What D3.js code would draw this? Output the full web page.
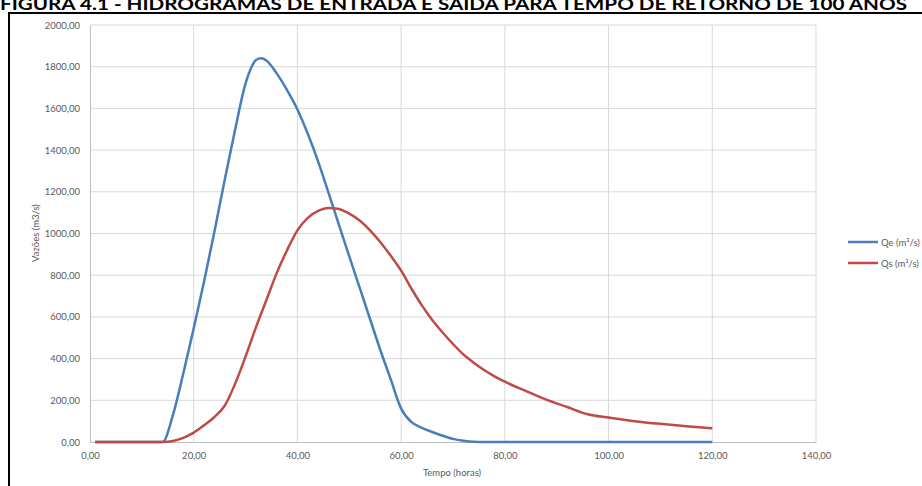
<!DOCTYPE html>
<html><head><meta charset="utf-8">
<script src="https://cdn.jsdelivr.net/npm/d3@7/dist/d3.min.js"></script>
<style>html,body{margin:0;padding:0;background:#fff;overflow:hidden}</style>
</head><body>
<svg id="c" width="922" height="486"></svg>
<script>
const title = "FIGURA 4.1 - HIDROGRAMAS DE ENTRADA E SAÍDA PARA TEMPO DE RETORNO DE 100 ANOS";
const xTicks = [0,20,40,60,80,100,120,140];
const yTicks = [0,200,400,600,800,1000,1200,1400,1600,1800,2000];
const seriesNames = ["Qe (m³/s)", "Qs (m³/s)"];
const seriesColors = ["#4A7EBB", "#BE4B48"];
const tQe = [1,12,14,16,18,20,22,24,26,28,30,31,32,33,34,36,38,40,42,44,46,48,50,52,54,56,58,60,62,64,66,68,70,72,74,76,120];
const vQe = [0,0,0,130,330,545,770,1010,1260,1500,1720,1790,1832,1840,1830,1768,1688,1595,1478,1345,1195,1042,890,740,590,440,300,160,95,68,48,30,15,6,1,0,0];
const tQs = [1,10,14,16,18,20,22,24,26,28,30,32,34,36,38,40,42,44,46,48,50,52,54,56,58,60,62,64,66,68,70,72,74,76,78,80,84,88,92,96,100,105,110,115,120];
const vQs = [0,0,0,5,20,45,80,120,175,280,410,550,680,810,920,1015,1075,1108,1122,1118,1095,1062,1015,958,893,822,735,655,585,525,470,420,380,345,315,289,245,203,168,133,117,100,87,76,66];

const svg = d3.select("#c");
const font = "Lato, 'Open Sans', sans-serif";
const fmt = v => v.toFixed(2).replace(".", ",");

// outer border
svg.append("rect").attr("x",9).attr("y",13).attr("width",940).attr("height",500)
  .attr("fill","none").attr("stroke","#000").attr("stroke-width",2);

// title (cut at the top edge, as in the reference)
svg.append("text").attr("x",0).attr("y",10).attr("font-family",font).attr("font-weight","bold")
  .attr("font-size",17).attr("textLength",907).attr("lengthAdjust","spacingAndGlyphs")
  .attr("fill","#000").text(title);

const x = d3.scaleLinear().domain([0,140]).range([90,816]);
const y = d3.scaleLinear().domain([0,2000]).range([442,25]);

// grid
const g = svg.append("g");
g.selectAll(".gx").data(xTicks.slice(1)).join("line")
  .attr("x1",d=>x(d)).attr("x2",d=>x(d)).attr("y1",y(0)).attr("y2",y(2000))
  .attr("stroke","#d9d9d9").attr("stroke-width",1);
g.selectAll(".gy").data(yTicks.slice(1)).join("line")
  .attr("x1",x(0)).attr("x2",x(140)).attr("y1",d=>y(d)).attr("y2",d=>y(d))
  .attr("stroke","#d9d9d9").attr("stroke-width",1);

// axes
const xa = svg.append("g").attr("transform",`translate(0,${y(0)})`)
  .call(d3.axisBottom(x).tickValues(xTicks).tickFormat(fmt).tickSize(0).tickPadding(10));
const ya = svg.append("g").attr("transform",`translate(${x(0)},0)`)
  .call(d3.axisLeft(y).tickValues(yTicks).tickFormat(fmt).tickSize(0).tickPadding(10));
[xa,ya].forEach(a=>{
  a.select(".domain").attr("stroke","#bfbfbf").attr("stroke-width",1);
  a.selectAll("text").attr("font-family",font).attr("font-size",9.5).attr("fill","#595959");
});

// axis titles
svg.append("text").attr("x",452).attr("y",476).attr("text-anchor","middle")
  .attr("font-family",font).attr("font-size",9.5).attr("fill","#595959").text("Tempo  (horas)");
svg.append("text").attr("transform","translate(39,233) rotate(-90)").attr("text-anchor","middle")
  .attr("font-family",font).attr("font-size",9.5).attr("fill","#595959").text("Vazões (m3/s)");

// lines
const line = d3.line().x(d=>x(d[0])).y(d=>y(d[1])).curve(d3.curveMonotoneX);
const data = [d3.zip(tQe,vQe), d3.zip(tQs,vQs)];
data.forEach((d,i)=>{
  svg.append("path").datum(d).attr("d",line).attr("fill","none")
    .attr("stroke",seriesColors[i]).attr("stroke-width",2.5).attr("stroke-linejoin","round");
});

// legend
seriesNames.forEach((n,i)=>{
  const ly = 242 + i*21;
  svg.append("line").attr("x1",848).attr("x2",878).attr("y1",ly).attr("y2",ly)
    .attr("stroke",seriesColors[i]).attr("stroke-width",2.5);
  svg.append("text").attr("x",881).attr("y",ly+3.5).attr("font-family",font)
    .attr("font-size",9.5).attr("fill","#595959").text(n);
});
</script>
</body></html>
